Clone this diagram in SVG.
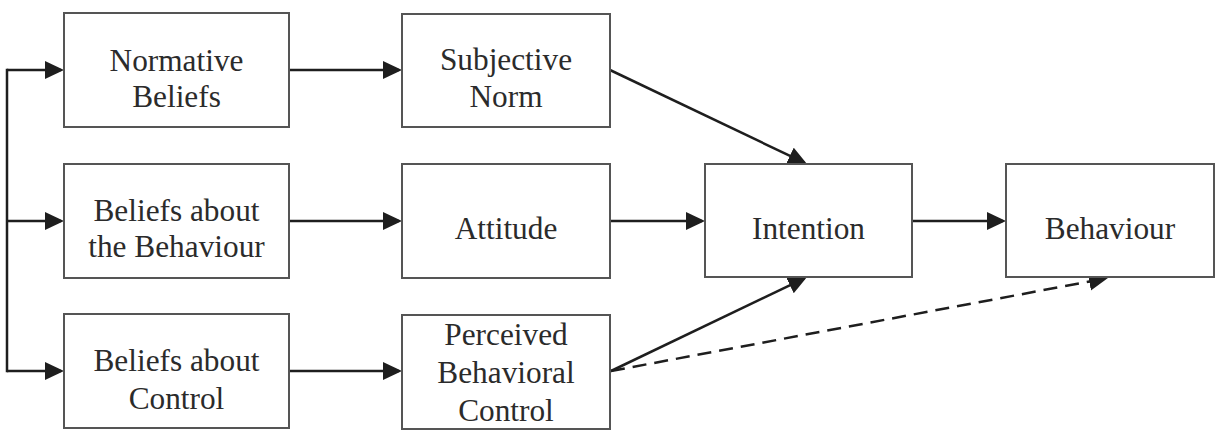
<svg xmlns="http://www.w3.org/2000/svg" width="1227" height="447" viewBox="0 0 1227 447">
  <style>
    .box { fill: #ffffff; stroke: #555555; stroke-width: 2; }
    .label { font-family: 'Liberation Serif', 'DejaVu Serif', serif; font-size: 31.3px; fill: #2b2b2b; text-anchor: middle; }
    .link { fill: none; stroke: #1e1e1e; stroke-width: 2.5; }
    .dashed { stroke-dasharray: 14 8; }
  </style>
  <defs>
    <marker id="arrow" markerUnits="userSpaceOnUse" markerWidth="22" markerHeight="20" refX="16" refY="9" orient="auto">
      <path d="M0,0 L19,9 L0,18 Z" fill="#1e1e1e"/>
    </marker>
  </defs>

  <rect width="1227" height="447" fill="#ffffff"/>

  <!-- connectors -->
  <g id="connectors">
    <path class="link" d="M7,70 V371" stroke-linecap="square"/>
    <path class="link" d="M7,70 H61" marker-end="url(#arrow)"/>
    <path class="link" d="M7,221 H61" marker-end="url(#arrow)"/>
    <path class="link" d="M7,371 H61" marker-end="url(#arrow)"/>
    <path class="link" d="M289,70 H399" marker-end="url(#arrow)"/>
    <path class="link" d="M289,221 H399" marker-end="url(#arrow)"/>
    <path class="link" d="M289,371 H399" marker-end="url(#arrow)"/>
    <path class="link" d="M610,70 L804.3,162.7" marker-end="url(#arrow)"/>
    <path class="link" d="M610,221 H702" marker-end="url(#arrow)"/>
    <path class="link" d="M611,371 L804.3,278.3" marker-end="url(#arrow)"/>
    <path class="link" d="M912,221 H1003" marker-end="url(#arrow)"/>
    <path class="link dashed" d="M611,371 L1105,278.6" marker-end="url(#arrow)"/>
  </g>

  <!-- nodes -->
  <g id="normative-beliefs">
    <rect class="box" x="64" y="13" width="225" height="114"/>
    <text class="label" x="176.5" y="71">Normative</text>
    <text class="label" x="176.5" y="107">Beliefs</text>
  </g>
  <g id="beliefs-behaviour">
    <rect class="box" x="64" y="164" width="225" height="114"/>
    <text class="label" x="176.5" y="221">Beliefs about</text>
    <text class="label" x="176.5" y="257">the Behaviour</text>
  </g>
  <g id="beliefs-control">
    <rect class="box" x="64" y="314" width="225" height="114"/>
    <text class="label" x="176.5" y="371">Beliefs about</text>
    <text class="label" x="176.5" y="409">Control</text>
  </g>
  <g id="subjective-norm">
    <rect class="box" x="402" y="14" width="208" height="113"/>
    <text class="label" x="506" y="70">Subjective</text>
    <text class="label" x="506" y="107">Norm</text>
  </g>
  <g id="attitude">
    <rect class="box" x="402" y="164" width="208" height="114"/>
    <text class="label" x="506" y="239">Attitude</text>
  </g>
  <g id="perceived-control">
    <rect class="box" x="402" y="315" width="208" height="114"/>
    <text class="label" x="506" y="345">Perceived</text>
    <text class="label" x="506" y="383">Behavioral</text>
    <text class="label" x="506" y="421">Control</text>
  </g>
  <g id="intention">
    <rect class="box" x="705" y="164" width="207" height="113"/>
    <text class="label" x="808.5" y="239">Intention</text>
  </g>
  <g id="behaviour">
    <rect class="box" x="1006" y="164" width="208" height="113"/>
    <text class="label" x="1110" y="239">Behaviour</text>
  </g>
</svg>
